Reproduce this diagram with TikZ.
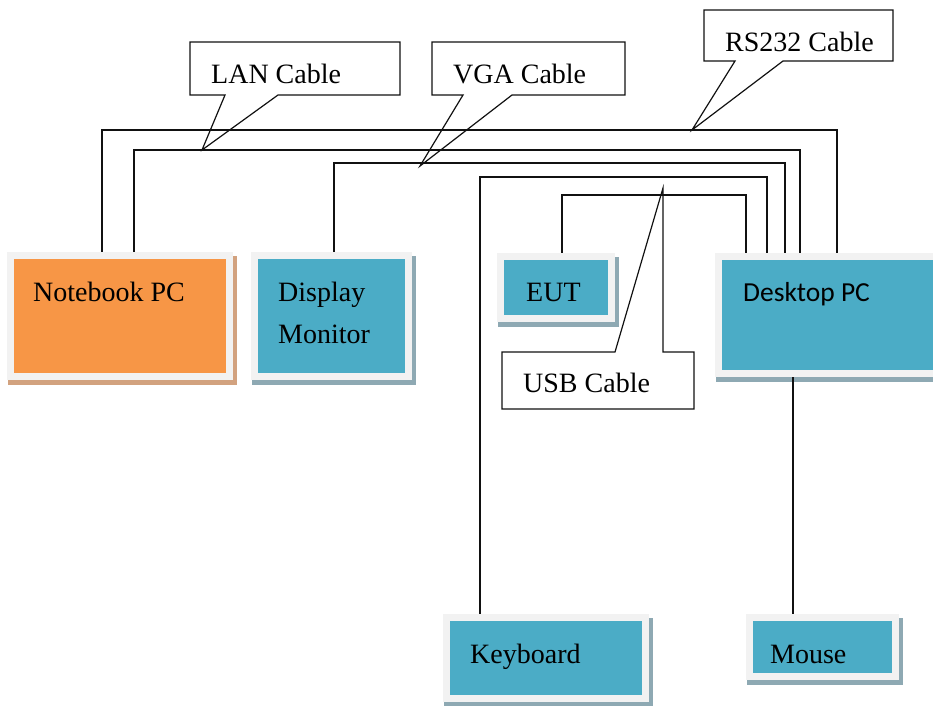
\documentclass[tikz,border=0pt]{standalone}
\usepackage{fontspec}
\setmainfont{Liberation Serif}
\newfontfamily\calib{Carlito}
\pgfdeclarelayer{back}
\pgfsetlayers{back,main}
\definecolor{orangebox}{HTML}{F79646}
\definecolor{bluebox}{HTML}{4BACC6}
\definecolor{framegray}{HTML}{F2F2F2}
\definecolor{shadoworange}{HTML}{D2A27F}
\definecolor{shadowblue}{HTML}{8EA9B3}
\definecolor{ink}{HTML}{111111}
\tikzset{
  devbox/.style={draw=framegray, line width=7pt, anchor=north west, inner sep=0pt},
  orangedev/.style={devbox, fill=orangebox},
  bluedev/.style={devbox, fill=bluebox},
  lbl/.style={anchor=base west, inner sep=0pt, font=\fontsize{28}{33}\selectfont, text=black},
  cable/.style={draw=ink, line width=1.2pt},
  callout/.style={draw=ink, fill=white, line width=1.2pt, line join=miter}
}
\begin{document}
\begin{tikzpicture}[x=1pt,y=-1pt]
\useasboundingbox (0,0) rectangle (933,705);
% device boxes
\node[orangedev, minimum width=219pt, minimum height=121pt] (nb) at (7,252) {};
\node[bluedev, minimum width=154pt, minimum height=121pt] (dm) at (251,252) {};
\node[bluedev, minimum width=111pt, minimum height=62pt] (eut) at (497,253) {};
\node[bluedev, minimum width=240pt, minimum height=117pt] (dt) at (715,253) {};
\node[bluedev, minimum width=199pt, minimum height=81pt] (kb) at (443,614) {};
\node[bluedev, minimum width=146pt, minimum height=59pt] (ms) at (746,614) {};
% labels
\node[lbl] (tnb) at (33,301) {Notebook PC};
\node[lbl] (tdm1) at (278,301) {Display};
\node[lbl] (tdm2) at (278,343) {Monitor};
\node[lbl] (teut) at (526,301) {EUT};
\node[lbl, font=\calib\fontsize{27.5}{33}\selectfont] (tdt) at (743,301) {Desktop PC};
\node[lbl] (tkb) at (470,663) {Keyboard};
\node[lbl] (tms) at (770,663) {Mouse};
\node[lbl] (tlan) at (211,83) {LAN Cable};
\node[lbl] (tvga) at (453,83) {VGA Cable};
\node[lbl] (trs) at (725,51) {RS232 Cable};
\node[lbl] (tusb) at (523,392) {USB Cable};
\begin{pgfonlayer}{back}
  % shadows
  \fill[shadoworange] ([shift={(1,4)}]nb.north west) rectangle ([shift={(4,5)}]nb.south east);
  \foreach \b in {dm,eut,dt,kb,ms}
    \fill[shadowblue] ([shift={(1,4)}]\b.north west) rectangle ([shift={(4,5)}]\b.south east);
  % callouts
  \path[callout] (190,42) -- (400,42) -- (400,95) -- (278,95) -- (202,150) -- (225,95) -- (190,95) -- cycle;
  \path[callout] (432,42) -- (625,42) -- (625,95) -- (512,95) -- (420,166) -- (463,95) -- (432,95) -- cycle;
  \path[callout] (704,10) -- (893,10) -- (893,61) -- (783,61) -- (692,130) -- (735,61) -- (704,61) -- cycle;
  \path[callout] (502,352) -- (615,352) -- (663,188) -- (663,352) -- (694,352) -- (694,409) -- (502,409) -- cycle;
  % cables
  \draw[cable] (102,0 |- nb.north) |- (837,130) -- (837,0 |- dt.north);
  \draw[cable] (134,0 |- nb.north) |- (800,150) -- (800,0 |- dt.north);
  \draw[cable] (334,0 |- dm.north) |- (785,163) -- (785,0 |- dt.north);
  \draw[cable] (480,0 |- kb.north) |- (767,177) -- (767,0 |- dt.north);
  \draw[cable] (562,0 |- eut.north) |- (746,195) -- (746,0 |- dt.north);
  \draw[cable] (793,0 |- dt.south) -- (793,0 |- ms.north);
\end{pgfonlayer}
\end{tikzpicture}
\end{document}
